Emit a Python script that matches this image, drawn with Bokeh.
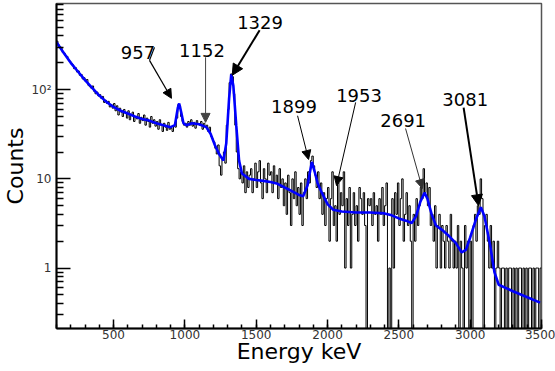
import numpy as np
from bokeh.plotting import figure
from bokeh.models import Arrow, NormalHead, Label, FixedTicker, CustomJSTickFormatter
from bokeh.embed import file_html
from bokeh.resources import INLINE

# ---------------- data ----------------
bin_start = 100
bin_width = 10
counts = [
    # 100-400
    350, 318, 305, 290, 262, 258, 240, 236, 215, 208,
    198, 190, 172, 176, 158, 162, 145, 148, 132, 136,
    124, 130, 112, 108, 104, 110, 96, 90, 94, 85,
    # 400-700
    88, 80, 84, 72, 76, 70, 74, 64, 68, 62,
    70, 58, 66, 52, 62, 56, 50, 60, 54, 48,
    58, 46, 52, 56, 44, 50, 47, 54, 42, 49,
    # 700-1000
    45, 52, 40, 48, 44, 38, 50, 42, 46, 39,
    44, 36, 46, 40, 34, 42, 38, 35, 43, 36,
    37, 34, 39, 38, 48, 68, 66, 50, 44, 40,
    # 1000-1300
    42, 38, 44, 40, 46, 39, 43, 37, 45, 41,
    40, 44, 36, 42, 38, 40, 34, 38, 30, 28,
    26, 22, 19, 24, 14, 11, 17, 20, 15, 40,
    # 1300-1600
    60, 120, 150, 140, 90, 40, 20, 13, 10, 12,
    9, 14, 7, 12, 8, 11, 13, 7, 10, 15,
    8, 12, 16, 9, 6, 13, 10, 7, 15, 11,
    # 1600-1900
    12, 7, 14, 9, 11, 6, 13, 8, 10, 5,
    9, 4, 11, 7, 3, 10, 6, 12, 5, 8,
    4, 9, 3, 7, 10, 6, 12, 9, 16, 18,
    # 1900-2200
    14, 11, 8, 12, 6, 9, 4, 7, 3, 6,
    8, 2, 6, 12, 3, 5, 2, 9, 4, 7,
    5, 12, 1, 6, 3, 8, 1, 4, 7, 3,
    # 2200-2500
    5, 2, 8, 6, 4, 7, 3, 0, 6, 5,
    6, 3, 7, 4, 5, 2, 6, 4, 8, 3,
    5, 9, 0, 1, 0, 6, 1, 7, 4, 9,
    # 2500-2800
    3, 6, 10, 2, 4, 7, 3, 5, 2, 0,
    4, 2, 6, 3, 5, 8, 6, 13, 7, 9,
    5, 8, 3, 4, 2, 5, 1, 3, 4, 1,
    # 2800-3100
    3, 2, 1, 3, 2, 1, 4, 2, 1, 2,
    1, 3, 0, 2, 1, 0, 3, 1, 2, 0,
    2, 0, 3, 4, 2, 5, 4, 10, 6, 0,
    # 3100-3500
    3, 4, 2, 1, 3, 1, 2, 0, 1, 2,
    1, 0, 1, 1, 0, 1, 0, 1, 1, 0,
    1, 0, 1, 0, 1, 1, 0, 1, 0, 1,
    0, 1, 1, 0, 1, 0, 1, 1, 0, 1,
]

fit_energy = [100, 150, 200, 250, 300, 350, 400, 450, 500, 550, 600, 650, 700, 750,
              800, 850, 900, 930, 950, 960, 975, 990, 1010, 1050, 1100, 1150, 1180,
              1210, 1240, 1270, 1290, 1310, 1325, 1340, 1360, 1380, 1400, 1450, 1500,
              1550, 1600, 1650, 1700, 1750, 1800, 1830, 1860, 1890, 1910, 1930, 1960,
              2000, 2040, 2100, 2200, 2300, 2400, 2450, 2500, 2550, 2590, 2620, 2650,
              2680, 2700, 2730, 2760, 2800, 2850, 2900, 2940, 2970, 3000, 3040, 3075,
              3100, 3140, 3170, 3200, 3300, 3400, 3490]
fit_counts = [340, 260, 200, 160, 128, 105, 86, 73, 64, 58, 54, 50, 47, 45,
              42, 40, 38, 40, 62, 70, 55, 42, 40, 42, 41, 38, 32,
              24, 19, 16, 25, 80, 148, 110, 40, 16, 11.5, 10, 9.7,
              9.5, 9.2, 8.8, 8.0, 7.3, 6.6, 6.4, 8.5, 15.5, 12, 9, 7,
              5.2, 4.5, 4.3, 4.2, 4.2, 4.1, 3.9, 3.6, 3.4, 3.2, 3.8, 5.5,
              7.0, 6.0, 4.0, 3.0, 2.7, 2.3, 1.9, 1.5, 1.6, 2.2, 3.5, 4.8,
              3.8, 1.8, 0.9, 0.65, 0.55, 0.47, 0.41]

peak_labels = ["957", "1152", "1329", "1899", "1953", "2691", "3081"]
label_x = [671, 1120, 1527, 1765, 2221, 2530, 2965]
label_y = [259, 273, 563, 64, 86, 44.6, 76.8]
arrow_x0 = [752, 1145, 1524, 1790, 2197, 2547, 2954]
arrow_y0 = [213, 231, 464, 51, 72, 36.7, 63]
arrow_x1 = [906, 1145, 1332, 1867, 2063, 2665, 3059]
arrow_y1 = [80, 43, 145, 16.5, 8.4, 7.8, 5.0]
arrow_w = [1.2, 1, 2, 1, 1, 1, 2]
arrow_c = ["black", "#444444", "black", "black", "black", "#333333", "black"]
kink_x = [787, 752]
kink_y = [298, 213]

x_lo, x_hi = 100, 3500
y_lo, y_hi = 0.21, 925

# ---------------- figure ----------------
p = figure(width=555, height=371, x_range=(x_lo, x_hi), y_range=(y_lo, y_hi),
           y_axis_type="log", output_backend="svg", toolbar_location=None,
           min_border_left=56, min_border_right=14, min_border_top=3,
           min_border_bottom=43)
p.grid.visible = False
p.outline_line_color = "#555555"
p.outline_line_width = 1.5
p.background_fill_color = "white"
p.border_fill_color = "white"

# histogram
c = np.array(counts, dtype=float)
edges = bin_start + bin_width * np.arange(len(c) + 1)
c_plot = np.where(c > 0, c, y_lo * 0.05)
p.step(edges, np.append(c_plot, c_plot[-1]), mode="after", line_color="black",
       line_width=1)

# fit
p.line(fit_energy, fit_counts, line_color="#0000ff", line_width=2.6)

# arrows
for i in range(len(peak_labels)):
    p.add_layout(Arrow(x_start=arrow_x0[i], y_start=arrow_y0[i],
                       x_end=arrow_x1[i], y_end=arrow_y1[i],
                       line_width=arrow_w[i], line_color=arrow_c[i],
                       end=NormalHead(size=11 if arrow_w[i] > 1.5 else 9,
                                      fill_color=arrow_c[i], line_color=arrow_c[i],
                                      line_width=1)))
    p.add_layout(Label(x=label_x[i], y=label_y[i], text=peak_labels[i],
                       text_align="center", text_baseline="middle",
                       text_font="DejaVu Sans", text_font_size="18px",
                       text_color="black"))
p.line(kink_x, kink_y, line_color="black", line_width=1.2)

# axes
p.xaxis.ticker = FixedTicker(ticks=list(range(500, 3501, 500)),
                             minor_ticks=list(range(100, 3501, 100)))
dec = [0.1, 1, 10, 100]
p.yaxis.ticker = FixedTicker(ticks=[1, 10, 100],
                             minor_ticks=[m * d for d in dec for m in range(2, 10)])
p.yaxis.formatter = CustomJSTickFormatter(code="""
    if (tick == 100) return "10\u00b2";
    if (tick == 10) return "10";
    if (tick == 1) return "1";
    return "";
""")
for ax in (p.xaxis[0], p.yaxis[0]):
    ax.axis_line_width = 2
    ax.axis_line_color = "black"
    ax.major_tick_out = 0
    ax.minor_tick_out = 0
    ax.major_tick_line_color = "black"
    ax.minor_tick_line_color = "black"
    ax.major_tick_line_width = 1.5
    ax.minor_tick_line_width = 1.5
    ax.major_label_text_font = "DejaVu Sans"
    ax.major_label_text_font_size = "12px"
    ax.major_label_text_color = "#333333"
    ax.axis_label_text_font = "DejaVu Sans"
    ax.axis_label_text_font_size = "22px"
    ax.axis_label_text_font_style = "normal"
    ax.axis_label_text_color = "black"
p.xaxis.major_tick_in = 9
p.xaxis.minor_tick_in = 4
p.yaxis.major_tick_in = 14
p.yaxis.minor_tick_in = 7
p.xaxis.axis_label = "Energy keV"
p.yaxis.axis_label = "Counts"
p.xaxis.major_label_standoff = 1
p.xaxis.axis_label_standoff = -3
p.yaxis.major_label_standoff = 5
p.yaxis.axis_label_standoff = 0

open("out.html", "w").write(file_html(p, INLINE))
